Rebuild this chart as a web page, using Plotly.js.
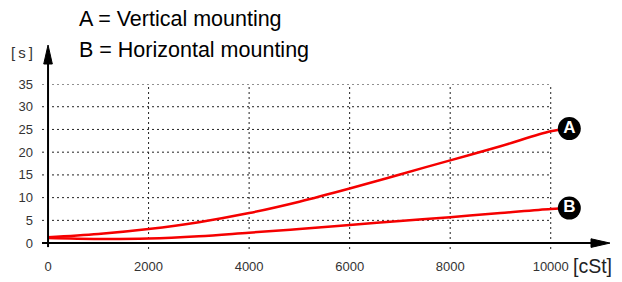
<!DOCTYPE html>
<html>
<head>
<meta charset="utf-8">
<script src="https://cdn.plot.ly/plotly-3.0.1.min.js"></script>
<style>html,body{margin:0;padding:0;background:#fff}#chart{width:622px;height:282px}</style>
</head>
<body>
<div id="chart"></div>
<script>
// ---- data ----
const viscosity = [0, 1000, 2000, 3000, 4000, 5000, 6000, 7000, 8000, 9000, 10000, 10370];
const timeVertical = [1.3, 2.0, 3.1, 4.6, 6.6, 9.1, 12.0, 15.1, 18.2, 21.3, 24.6, 25.2];
const timeHorizontal = [1.1, 0.9, 1.0, 1.5, 2.3, 3.1, 4.0, 4.85, 5.7, 6.6, 7.5, 7.7];
const curveNames = ['A', 'B'];
const labelX = [10370, 10370];
const labelY = [25.2, 7.7];
const xTicks = [0, 2000, 4000, 6000, 8000, 10000];
const yTicks = [0, 5, 10, 15, 20, 25, 30, 35];
const legendLines = ['A = Vertical mounting', 'B = Horizontal mounting'];
const xUnit = '[cSt]';
const yUnit = '[\u2009s\u2009]';

// ---- layout geometry ----
const FW = 622, FH = 282;
const L = 42, T = 84, W = 559, H = 165;
const xr = [-120, 11000], yr = [-1.3, 35];
const px = p => (p - L) / W;          // pixel x -> paper
const py = p => (T + H - p) / H;      // pixel y -> paper
const dx = v => (v - xr[0]) / (xr[1] - xr[0]); // data x -> paper
const dy = v => (v - yr[0]) / (yr[1] - yr[0]); // data y -> paper

const gridStyle = {color: '#222', width: 1, dash: '2px,3px'};
const shapes = [];
xTicks.forEach(v => {
  if (v === 0) return;
  shapes.push({type: 'line', xref: 'x', yref: 'y', x0: v, x1: v, y0: yr[0], y1: yTicks[yTicks.length - 1], line: gridStyle, layer: 'below'});
});
yTicks.forEach(v => {
  if (v === 0) return;
  shapes.push({type: 'line', xref: 'x', yref: 'y', x0: xr[0], x1: xTicks[xTicks.length - 1], y0: v, y1: v, line: gridStyle, layer: 'below'});
});
// axes with arrows
const ax0 = L + dx(0) * W;            // pixel of x=0
const ay0 = T + H - dy(0) * H;        // pixel of y=0
shapes.push({type: 'line', xref: 'paper', yref: 'paper', x0: dx(0), x1: dx(0), y0: py(ay0 + 4), y1: py(62), line: {color: '#000', width: 2}, layer: 'above'});
shapes.push({type: 'path', xref: 'paper', yref: 'paper',
  path: `M ${dx(0)} ${py(45)} L ${px(ax0 - 4.3)} ${py(64)} L ${px(ax0 + 4.3)} ${py(64)} Z`,
  fillcolor: '#000', line: {color: '#000', width: 1}, layer: 'above'});
shapes.push({type: 'line', xref: 'paper', yref: 'paper', x0: px(42), x1: px(593), y0: dy(0), y1: dy(0), line: {color: '#000', width: 2}, layer: 'above'});
shapes.push({type: 'path', xref: 'paper', yref: 'paper',
  path: `M ${px(610)} ${dy(0)} L ${px(591)} ${py(ay0 - 4.3)} L ${px(591)} ${py(ay0 + 4.3)} Z`,
  fillcolor: '#000', line: {color: '#000', width: 1}, layer: 'above'});

const red = 'rgb(245,0,0)';
const traces = [
  {x: viscosity, y: timeVertical, mode: 'lines', line: {color: red, width: 2.5, shape: 'spline', smoothing: 1}, hoverinfo: 'skip'},
  {x: viscosity, y: timeHorizontal, mode: 'lines', line: {color: red, width: 2.5, shape: 'spline', smoothing: 1}, hoverinfo: 'skip'},
  {x: labelX, y: labelY, text: curveNames, mode: 'markers+text', textposition: 'middle center',
   marker: {size: 23, color: '#000', line: {width: 0}},
   textfont: {family: 'Liberation Sans, Arial, sans-serif', size: 17, color: '#fff', weight: 700},
   cliponaxis: false, hoverinfo: 'skip'}
];

const tickFont = {family: 'Liberation Sans, Arial, sans-serif', size: 13, color: '#333'};
const layout = {
  width: FW, height: FH,
  margin: {l: L, t: T, r: FW - L - W, b: FH - T - H, pad: 0},
  paper_bgcolor: '#fff', plot_bgcolor: '#fff',
  showlegend: false,
  xaxis: {range: xr, showgrid: false, zeroline: false, showline: false, ticks: '',
          tickvals: xTicks, ticktext: xTicks.map(String), tickfont: tickFont, ticklabelstandoff: 8, fixedrange: true},
  yaxis: {range: yr, showgrid: false, zeroline: false, showline: false, ticks: '',
          tickvals: yTicks, ticktext: yTicks.map(String), tickfont: tickFont, ticklabelstandoff: 8, fixedrange: true},
  shapes: shapes,
  annotations: [
    {xref: 'paper', yref: 'paper', x: px(77), y: py(19), xanchor: 'left', yanchor: 'middle', showarrow: false,
     text: legendLines[0], font: {family: 'Liberation Sans, Arial, sans-serif', size: 21.5, color: '#000'}},
    {xref: 'paper', yref: 'paper', x: px(77), y: py(50), xanchor: 'left', yanchor: 'middle', showarrow: false,
     text: legendLines[1], font: {family: 'Liberation Sans, Arial, sans-serif', size: 21.5, color: '#000'}},
    {xref: 'paper', yref: 'paper', x: px(22), y: py(52), xanchor: 'center', yanchor: 'middle', showarrow: false,
     text: yUnit, font: {family: 'Liberation Sans, Arial, sans-serif', size: 15, color: '#333'}},
    {xref: 'paper', yref: 'paper', x: px(592), y: py(266), xanchor: 'center', yanchor: 'middle', showarrow: false,
     text: xUnit, font: {family: 'Liberation Sans, Arial, sans-serif', size: 19.5, color: '#222'}}
  ]
};
Plotly.newPlot('chart', traces, layout, {staticPlot: true, displayModeBar: false});
</script>
</body>
</html>
